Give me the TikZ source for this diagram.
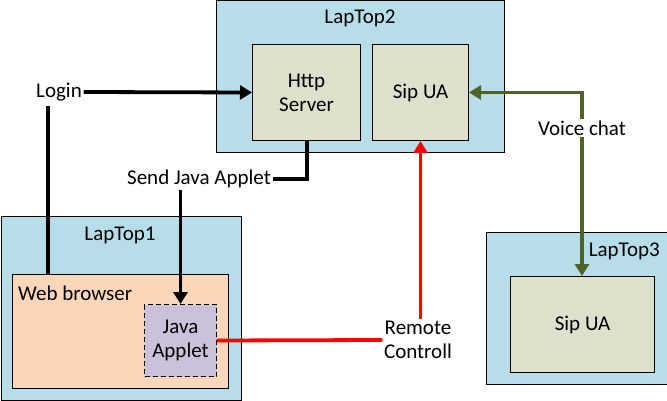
\documentclass[tikz,border=0pt]{standalone}
\usepackage{fontspec}
\setmainfont{Carlito}
\usetikzlibrary{arrows.meta}
\definecolor{lapblue}{HTML}{B7DDE8}
\definecolor{innerg}{HTML}{DDE0CB}
\definecolor{peach}{HTML}{FBD6B9}
\definecolor{lav}{HTML}{CCC1DA}
\definecolor{olive}{HTML}{4F6228}
\tikzset{
  box/.style={draw=black, line width=1pt, anchor=north west, inner sep=0pt, align=center},
  lbl/.style={inner sep=1.5pt, align=center, font=\fontsize{21}{24}\selectfont},
  txt/.style={font=\fontsize{21}{24}\selectfont},
  blk/.style={line width=3.8pt, black},
  redl/.style={line width=3.8pt, red},
  grn/.style={line width=3.8pt, olive},
  tip/.style={-{Triangle[length=12pt,width=14pt]}},
}
\begin{document}
\begin{tikzpicture}[x=1pt,y=-1pt]
\useasboundingbox (0,0) rectangle (667,401);
% LapTop2
\node[box, fill=lapblue, minimum width=288, minimum height=152] (lt2) at (216,0.5) {};
\node[txt] (lt2l) at (360,18) {LapTop2};
\node[box, fill=innerg, minimum width=108, minimum height=96, txt] (http) at (252,44) {Http\\Server};
\node[box, fill=innerg, minimum width=96, minimum height=96, txt] (sip2) at (372,44) {Sip UA};
% LapTop1
\node[box, fill=lapblue, minimum width=240, minimum height=184] (lt1) at (0.5,216) {};
\node[txt] (lt1l) at (120,235) {LapTop1};
\node[box, fill=peach, minimum width=216, minimum height=114] (web) at (12,274) {};
\node[txt, anchor=west, inner sep=0pt] (webl) at (18,293) {Web browser};
\node[box, fill=lav, dash pattern=on 5pt off 3pt, minimum width=72, minimum height=72, txt] (applet) at (144,304) {Java\\Applet};
% LapTop3
\node[box, fill=lapblue, minimum width=181, minimum height=152] (lt3) at (486,232) {};
\node[txt, anchor=east, inner sep=0pt] (lt3l) at (660,251) {LapTop3};
\node[box, fill=innerg, minimum width=144, minimum height=96, txt] (sip3) at (510,276) {Sip UA};
% labels
\node[lbl] (login) at (59,92) {Login};
\node[lbl] (sja) at (199,179) {Send Java Applet};
\node[lbl] (rc) at (418,340) {Remote\\Controll};
\node[lbl] (vc) at (582,128) {Voice chat};
\coordinate (lv) at (48,106);
\coordinate (hb) at (307,140);
% connectors
\draw[blk, tip] (login.east) -- (http.west);
\draw[blk] (lv) -- (lv |- web.north);
\draw[blk] (hb) -- (hb |- sja.east) -- (sja.east);
\draw[blk, tip] (sja.south -| applet.north) -- (applet.north);
\draw[redl] (applet.east) -- (rc.west);
\draw[redl, tip] (rc.north -| sip2.south) -- (sip2.south);
\draw[grn, tip] (vc.north) -- (vc.north |- sip2.east) -- (sip2.east);
\draw[grn, tip] (vc.south) -- (vc.south |- sip3.north);
\end{tikzpicture}
\end{document}
